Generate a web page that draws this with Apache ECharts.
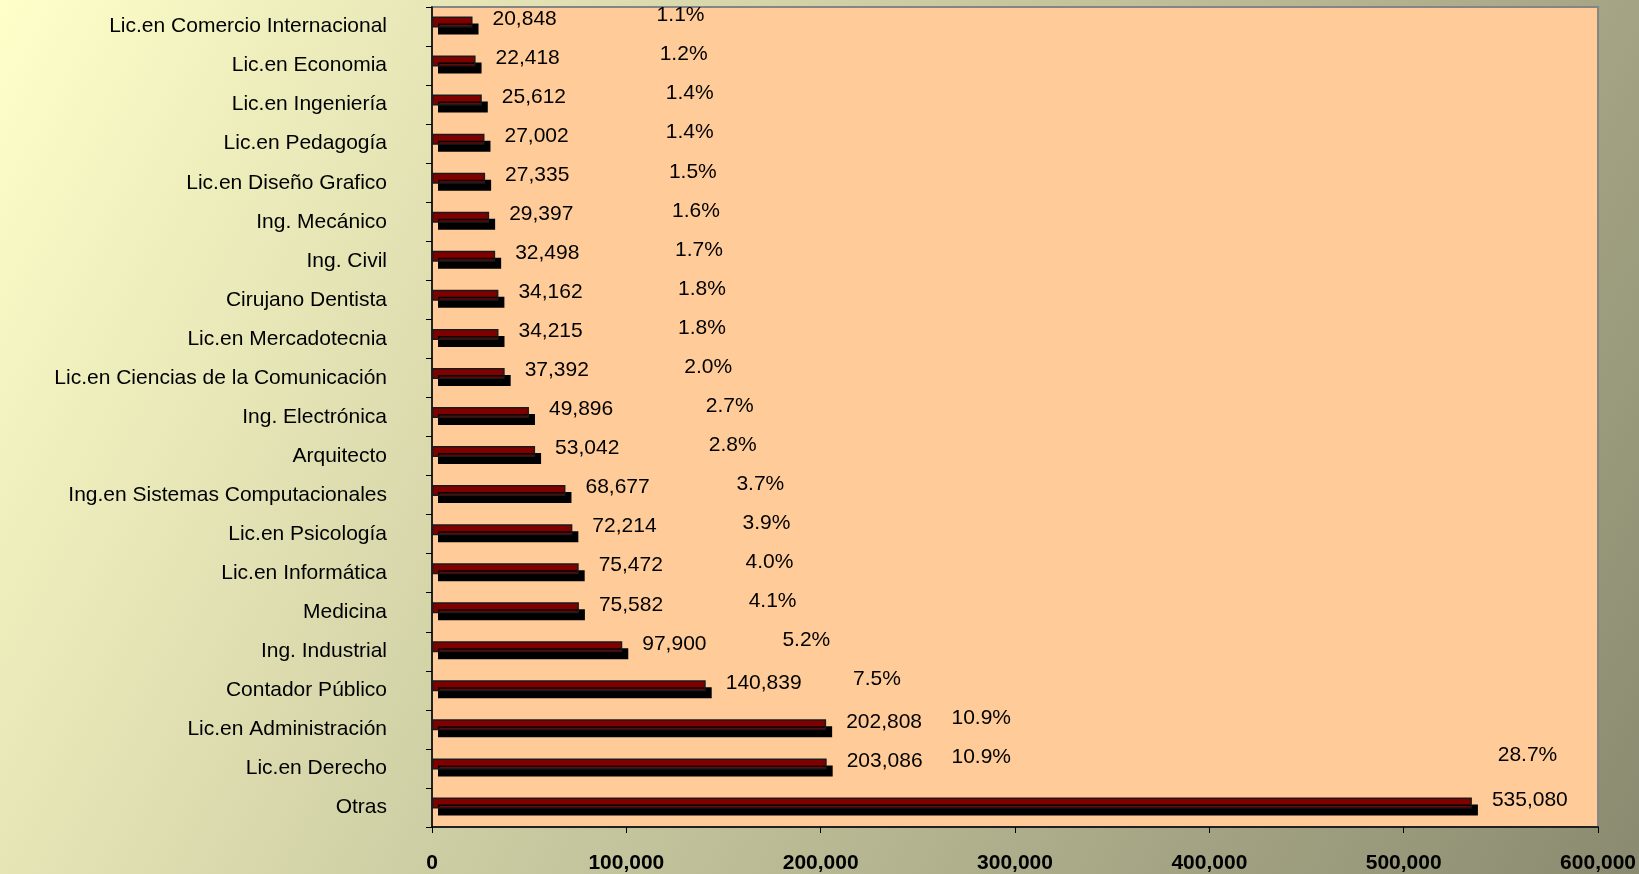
<!DOCTYPE html>
<html>
<head>
<meta charset="utf-8">
<script src="https://cdn.jsdelivr.net/npm/echarts@6/dist/echarts.min.js"></script>
<style>
  html, body { margin: 0; padding: 0; }
  #chart { width: 1639px; height: 874px; }
</style>
</head>
<body>
<div id="chart"></div>
<script>
// carreras, de arriba hacia abajo como en la lámina
const carreras = [
  'Lic.en Comercio Internacional',
  'Lic.en Economia',
  'Lic.en Ingeniería',
  'Lic.en Pedagogía',
  'Lic.en Diseño Grafico',
  'Ing. Mecánico',
  'Ing. Civil',
  'Cirujano Dentista',
  'Lic.en Mercadotecnia',
  'Lic.en Ciencias de la Comunicación',
  'Ing. Electrónica',
  'Arquitecto',
  'Ing.en Sistemas Computacionales',
  'Lic.en Psicología',
  'Lic.en Informática',
  'Medicina',
  'Ing. Industrial',
  'Contador Público',
  'Lic.en Administración',
  'Lic.en Derecho',
  'Otras',
]
const alumnos = [
  20848, 22418, 25612, 27002, 27335, 29397, 32498, 34162, 34215, 37392,
  49896, 53042, 68677, 72214, 75472, 75582, 97900, 140839, 202808, 203086,
  535080,
]
const porcentaje = [
  1.1, 1.2, 1.4, 1.4, 1.5, 1.6, 1.7, 1.8, 1.8, 2.0,
  2.7, 2.8, 3.7, 3.9, 4.0, 4.1, 5.2, 7.5, 10.9, 10.9,
  28.7,
]
const xTicks = [0, 100000, 200000, 300000, 400000, 500000, 600000]

const fmt = (v) => Number(v).toLocaleString('en-US')
const font = 'Liberation Sans, Arial, sans-serif'
const last = porcentaje.length - 1

const initChart = () => {
  const chartDom = document.getElementById('chart')
  const myChart = echarts.init(chartDom)
  const option = {
    backgroundColor: new echarts.graphic.LinearGradient(0, 0, 1, 1, [
      { offset: 0, color: '#FFFFCA' },
      { offset: 1, color: '#8A8A70' },
    ]),
    animation: false,
    grid: {
      left: 432,
      right: 39,
      top: 7,
      bottom: 47,
      show: true,
      backgroundColor: '#FFCC99',
      borderColor: '#858585',
      borderWidth: 2,
    },
    xAxis: [
      {
        type: 'value',
        min: xTicks[0],
        max: xTicks[xTicks.length - 1],
        interval: 100000,
        splitLine: { show: false },
        axisLine: { show: true, lineStyle: { color: '#000', width: 1.5 } },
        axisTick: { show: true, length: 6, lineStyle: { color: '#000' } },
        axisLabel: {
          margin: 26,
          color: '#000',
          fontSize: 21,
          fontWeight: 'bold',
          fontFamily: font,
          formatter: (v) => fmt(v),
        },
      },
      {
        // eje auxiliar oculto para ubicar las etiquetas de porcentaje
        type: 'value',
        min: -7,
        max: 31,
        show: false,
      },
    ],
    yAxis: {
      type: 'category',
      inverse: true,
      data: carreras,
      axisLine: { show: true, lineStyle: { color: '#000', width: 1.5 } },
      axisTick: { show: true, length: 6, lineStyle: { color: '#000' } },
      axisLabel: {
        margin: 45,
        color: '#000',
        fontSize: 21,
        fontFamily: font,
      },
    },
    series: [
      {
        name: 'alumnos',
        type: 'bar',
        data: alumnos,
        barWidth: 11,
        barGap: '-18%',
        itemStyle: {
          color: '#800000',
          borderColor: '#1a1a1a',
          borderWidth: 1.5,
          shadowColor: '#000',
          shadowBlur: 0,
          shadowOffsetX: 6,
          shadowOffsetY: 7,
        },
        label: {
          show: true,
          position: 'right',
          distance: 20,
          offset: [0, -3],
          color: '#000',
          fontSize: 21,
          fontFamily: font,
          formatter: (p) => fmt(p.value),
        },
      },
      {
        name: 'hueco',
        type: 'bar',
        data: alumnos.map(() => null),
        barWidth: 11,
        silent: true,
      },
      {
        name: 'porcentaje',
        type: 'scatter',
        xAxisIndex: 1,
        data: porcentaje.map((p, i) => {
          const item = { value: [p, carreras[i]] }
          // la etiqueta de "Otras" va por encima de su cifra
          if (i === last) item.label = { offset: [0, -52] }
          return item
        }),
        symbolSize: 1,
        itemStyle: { color: 'rgba(0,0,0,0)', opacity: 1 },
        label: {
          show: true,
          position: 'inside',
          offset: [0, -11],
          color: '#000',
          fontSize: 21,
          fontFamily: font,
          formatter: (p) => p.value[0].toFixed(1) + '%',
        },
      },
    ],
  }
  myChart.setOption(option)
}

initChart()
</script>
</body>
</html>
